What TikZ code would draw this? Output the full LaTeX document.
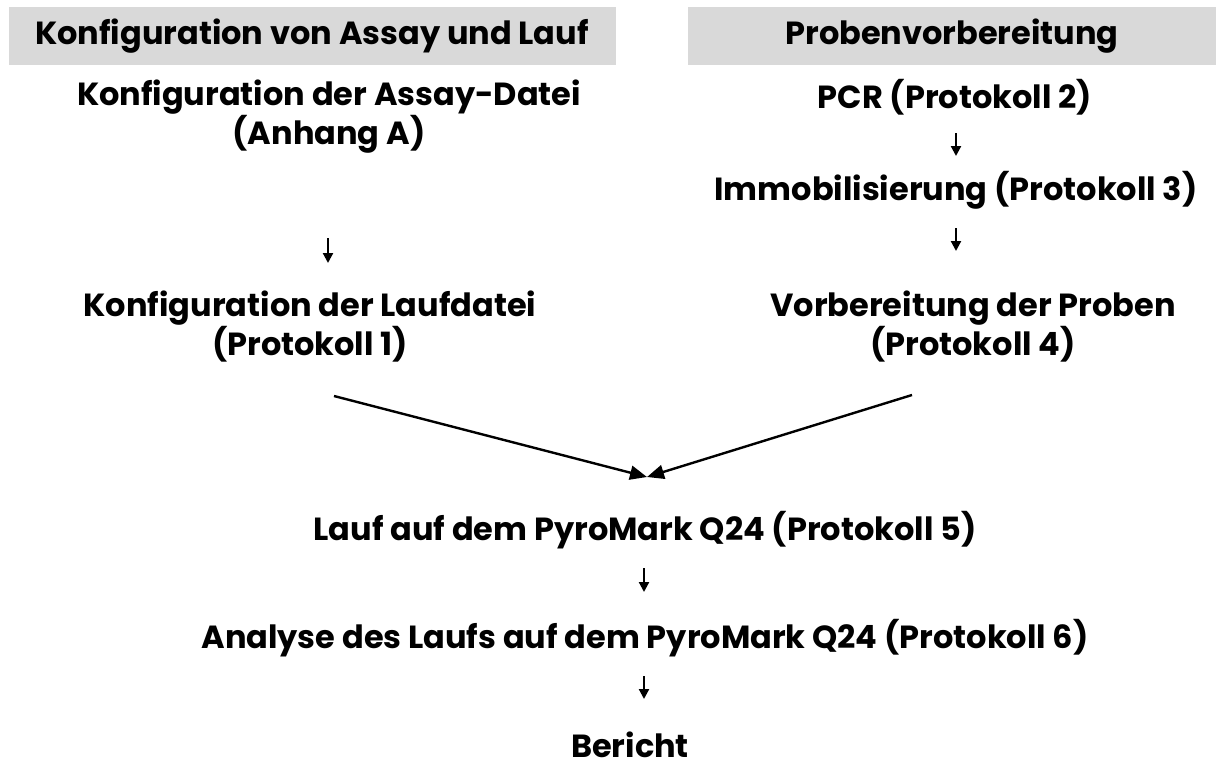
\documentclass[tikz,border=0pt]{standalone}
\usepackage{fontspec}
\setmainfont{Poppins}
\usetikzlibrary{arrows.meta}
\definecolor{hdrgray}{RGB}{217,217,217}
\tikzset{
  txt/.style={font=\fontsize{32}{38}\selectfont\bfseries, align=center, inner sep=0pt},
  hdr/.style={fill=hdrgray, draw=none, minimum height=58pt, inner sep=0pt},
  small/.style={line width=2.2pt, -{Triangle[width=10pt,length=10pt]}},
  big/.style={line width=2.4pt, -{Triangle[width=14pt,length=17pt]}},
}
\begin{document}
\begin{tikzpicture}[x=1pt,y=-1pt]
\useasboundingbox (0,0) rectangle (1216,769);
% headers
\node[hdr, minimum width=607pt, anchor=north west] (h1) at (9,7) {};
\node[txt] (h1t) at (312,36) {Konfiguration von Assay und Lauf};
\node[hdr, minimum width=528pt, anchor=north west] (h2) at (688,7) {};
\node[txt] (h2t) at (952,36) {Probenvorbereitung};
% left column
\node[txt] (assay) at (329,117) {Konfiguration der Assay-Datei\\(Anhang A)};
\node[txt] (lauf) at (310,327) {Konfiguration der Laufdatei\\(Protokoll 1)};
% right column
\node[txt] (pcr) at (955,97) {PCR (Protokoll 2)};
\node[txt] (immo) at (956,190) {Immobilisierung (Protokoll 3)};
\node[txt] (vorb) at (973,327) {Vorbereitung der Proben\\(Protokoll 4)};
% bottom
\node[txt] (run) at (645,530) {Lauf auf dem PyroMark Q24 (Protokoll 5)};
\node[txt] (ana) at (645,638) {Analyse des Laufs auf dem PyroMark Q24 (Protokoll 6)};
\node[txt, anchor=base] (ber) at (630,757) {Bericht};
% arrow coordinates
\coordinate (a1s) at (328,238); \coordinate (a1e) at (328,263);
\coordinate (a2s) at (956,133); \coordinate (a2e) at (956,156);
\coordinate (a3s) at (956,228); \coordinate (a3e) at (956,251);
\coordinate (a5s) at (644,568); \coordinate (a5e) at (644,592);
\coordinate (a6s) at (644,676); \coordinate (a6e) at (644,699);
\coordinate (ls) at (334,396);
\coordinate (rs) at (912,395);
\coordinate (meet) at (647,477);
\draw[small] (a1s) -- (a1e);
\draw[small] (a2s) -- (a2e);
\draw[small] (a3s) -- (a3e);
\draw[small] (a5s) -- (a5e);
\draw[small] (a6s) -- (a6e);
\draw[big] (ls) -- (meet);
\draw[big] (rs) -- (meet);
\end{tikzpicture}
\end{document}
